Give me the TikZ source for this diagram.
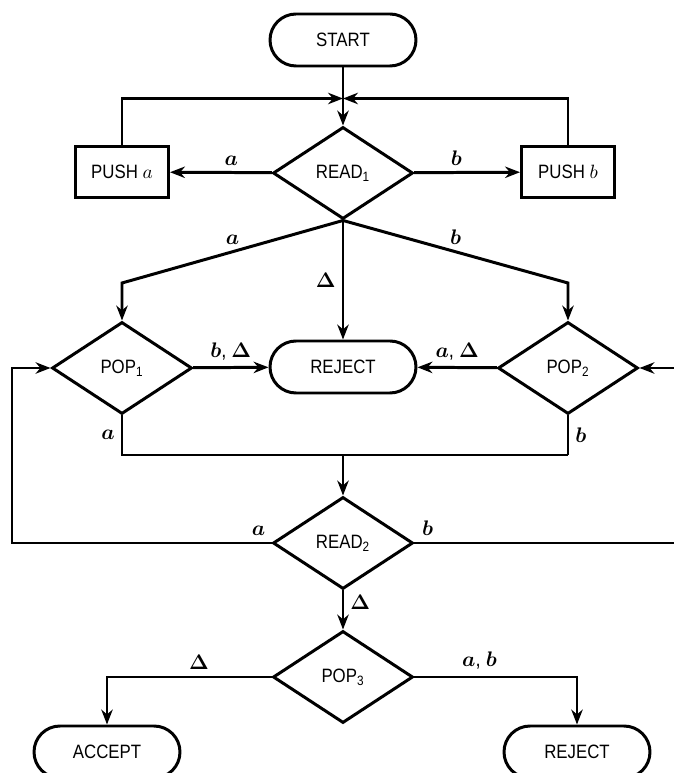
\documentclass[tikz,border=0pt]{standalone}
\usepackage{amsmath,amssymb}
\usepackage{fontspec}
\setmainfont{Liberation Sans}[FakeStretch=0.87]
\usetikzlibrary{shapes.geometric,arrows.meta}

\begin{document}
\begin{tikzpicture}[>={Stealth[length=8.5pt,width=6.5pt]}, line width=1.7pt,
  every node/.style={font=\fontsize{11}{13}\selectfont},
  test/.style={draw, diamond, minimum width=2.8cm, minimum height=1.84cm, inner sep=0pt},
  term/.style={draw, rounded corners=0.52cm, minimum width=2.92cm, minimum height=1.04cm},
  pushbox/.style={draw, minimum width=1.86cm, minimum height=1.02cm},
  lab/.style={font=\large\boldmath}]
\useasboundingbox (0,0) rectangle (13.48,15.46);
\node[term](start) at (6.86,14.66){START};
\node[test](read1) at (6.86,12.0){READ\textsubscript{1}};
\node[pushbox](pusha) at (2.44,12.02){PUSH $a$};
\node[pushbox](pushb) at (11.36,12.02){PUSH $b$};
\node[test](pop1) at (2.44,8.1){POP\textsubscript{1}};
\node[term](reject1) at (6.86,8.12){REJECT};
\node[test](pop2) at (11.36,8.1){POP\textsubscript{2}};
\node[test](read2) at (6.86,4.6){READ\textsubscript{2}};
\node[test](pop3) at (6.86,1.92){POP\textsubscript{3}};
\node[term](accept) at (2.14,0.42){ACCEPT};
\node[term](reject2) at (11.54,0.42){REJECT};
\coordinate (join) at (6.86,13.49);
\coordinate (k1) at (2.44,9.8);
\coordinate (k2) at (11.36,9.8);
\coordinate (m1) at (2.44,6.36);
\coordinate (m) at (6.86,6.36);
\coordinate (m2) at (11.36,6.36);
\coordinate (loopl) at (0.24,4.6);
\coordinate (loopr) at (13.52,4.6);
\coordinate (p3l) at (2.14,1.92);
\coordinate (p3r) at (11.54,1.92);
% first read and the two pushes
\draw (start) -- (join);
\draw[->] (join) -- (read1);
\draw[->] (pusha) |- (join);
\draw[->] (pushb) |- (join);
\draw[->] (read1) -- (pusha) node[pos=.4, above, lab]{$a$};
\draw[->] (read1) -- (pushb) node[pos=.4, above, lab]{$b$};
\draw[->] (read1.south) -- (k1) node[midway, above, lab]{$a$} -- (pop1);
\draw[->] (read1.south) -- (reject1) node[midway, left, lab]{$\Delta$};
\draw[->] (read1.south) -- (k2) node[midway, above, lab]{$b$} -- (pop2);
% pops
\draw[->] (pop1) -- (reject1) node[midway, above, lab]{$b$, $\Delta$};
\draw[->] (pop2) -- (reject1) node[midway, above, lab]{$a$, $\Delta$};
\draw (pop1.south) -- (m1) node[midway, left, lab]{$a$} -- (m2);
\draw (pop2.south) -- (m2) node[midway, right, lab]{$b$};
\draw[->] (m) -- (read2);
% second read
\draw[->] (read2) -- node[pos=.05, above, lab]{$a$} (loopl) |- (pop1);
\draw[->] (read2) -- node[pos=.05, above, lab]{$b$} (loopr) |- (pop2);
\draw[->] (read2) -- (pop3) node[pos=.3, right, lab]{$\Delta$};
\draw[->] (pop3) -- node[pos=.44, above, lab]{$\Delta$} (p3l) -- (accept);
\draw[->] (pop3) -- node[pos=.4, above, lab]{$a$, $b$} (p3r) -- (reject2);
\end{tikzpicture}
\end{document}
